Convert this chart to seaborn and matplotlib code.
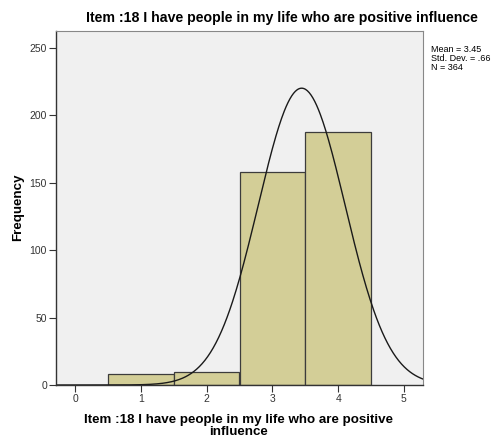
import numpy as np
import matplotlib
matplotlib.use("Agg")
import matplotlib.pyplot as plt
import seaborn as sns

# Response scores and how many respondents gave each one
scores = [1, 2, 3, 4]
counts = [8, 10, 158, 188]
x_ticks = [0, 1, 2, 3, 4, 5]
y_ticks = [0, 50, 100, 150, 200, 250]
title = "Item :18 I have people in my life who are positive influence"
x_label = "Item :18 I have people in my life who are positive\ninfluence"
y_label = "Frequency"

sns.set_theme(style="white")
plt.rcParams["font.family"] = ["Liberation Sans", "DejaVu Sans"]
plt.rcParams["text.color"] = "black"
plt.rcParams["axes.labelcolor"] = "black"

fig = plt.figure(figsize=(4.97, 4.44), dpi=100)
ax = fig.add_axes([56 / 497, 1 - 385 / 444, (423 - 56) / 497, (385 - 31) / 444])
ax.set_facecolor("#F0F0F0")

sns.histplot(x=scores, weights=counts, discrete=True, ax=ax,
             color="#D3CE97", alpha=1.0, edgecolor="#3C3C3C", linewidth=0.9)

# Normal curve scaled to the histogram
w = np.repeat(scores, counts).astype(float)
n = w.size
mean = w.mean()
sd = w.std(ddof=1)
xs = np.linspace(-0.3, 5.3, 400)
ys = n * 1.0 * np.exp(-0.5 * ((xs - mean) / sd) ** 2) / (sd * np.sqrt(2 * np.pi))
ax.plot(xs, ys, color="#1A1A1A", linewidth=1.0)

ax.set_xlim(-0.29, 5.29)
ax.set_ylim(0, 262.6)
ax.set_xticks(x_ticks)
ax.set_yticks(y_ticks)
ax.tick_params(axis="both", labelsize=7.5, labelcolor="#333333", length=5,
               width=0.8, color="#333333", direction="out", bottom=True, left=True,
               pad=1.5)
for side in ["left", "bottom"]:
    ax.spines[side].set_color("#333333")
    ax.spines[side].set_linewidth(1.0)
for side in ["top", "right"]:
    ax.spines[side].set_color("#888888")
    ax.spines[side].set_linewidth(0.8)

ax.set_xlabel(x_label, fontsize=9.6, fontweight="bold", linespacing=1.05)
ax.xaxis.set_label_coords((239 - 56) / 367, (385 - 426) / 354)
ax.xaxis.label.set_va("center")
ax.set_ylabel(y_label, fontsize=9.6, fontweight="bold")
ax.yaxis.set_label_coords((18 - 56) / 367, (385 - 207) / 354)
ax.yaxis.label.set_va("center")

fig.text(282 / 497, 1 - 18 / 444, title, ha="center", va="center",
         fontsize=10.2, fontweight="bold")
fig.text(431 / 497, 1 - 45 / 444,
         f"Mean = {mean:.2f}\nStd. Dev. = {sd:.2f}".replace("= 0.", "= .") + f"\nN = {n}",
         ha="left", va="top", fontsize=6.5, linespacing=1.0)

fig.savefig("out.png", dpi=100)
